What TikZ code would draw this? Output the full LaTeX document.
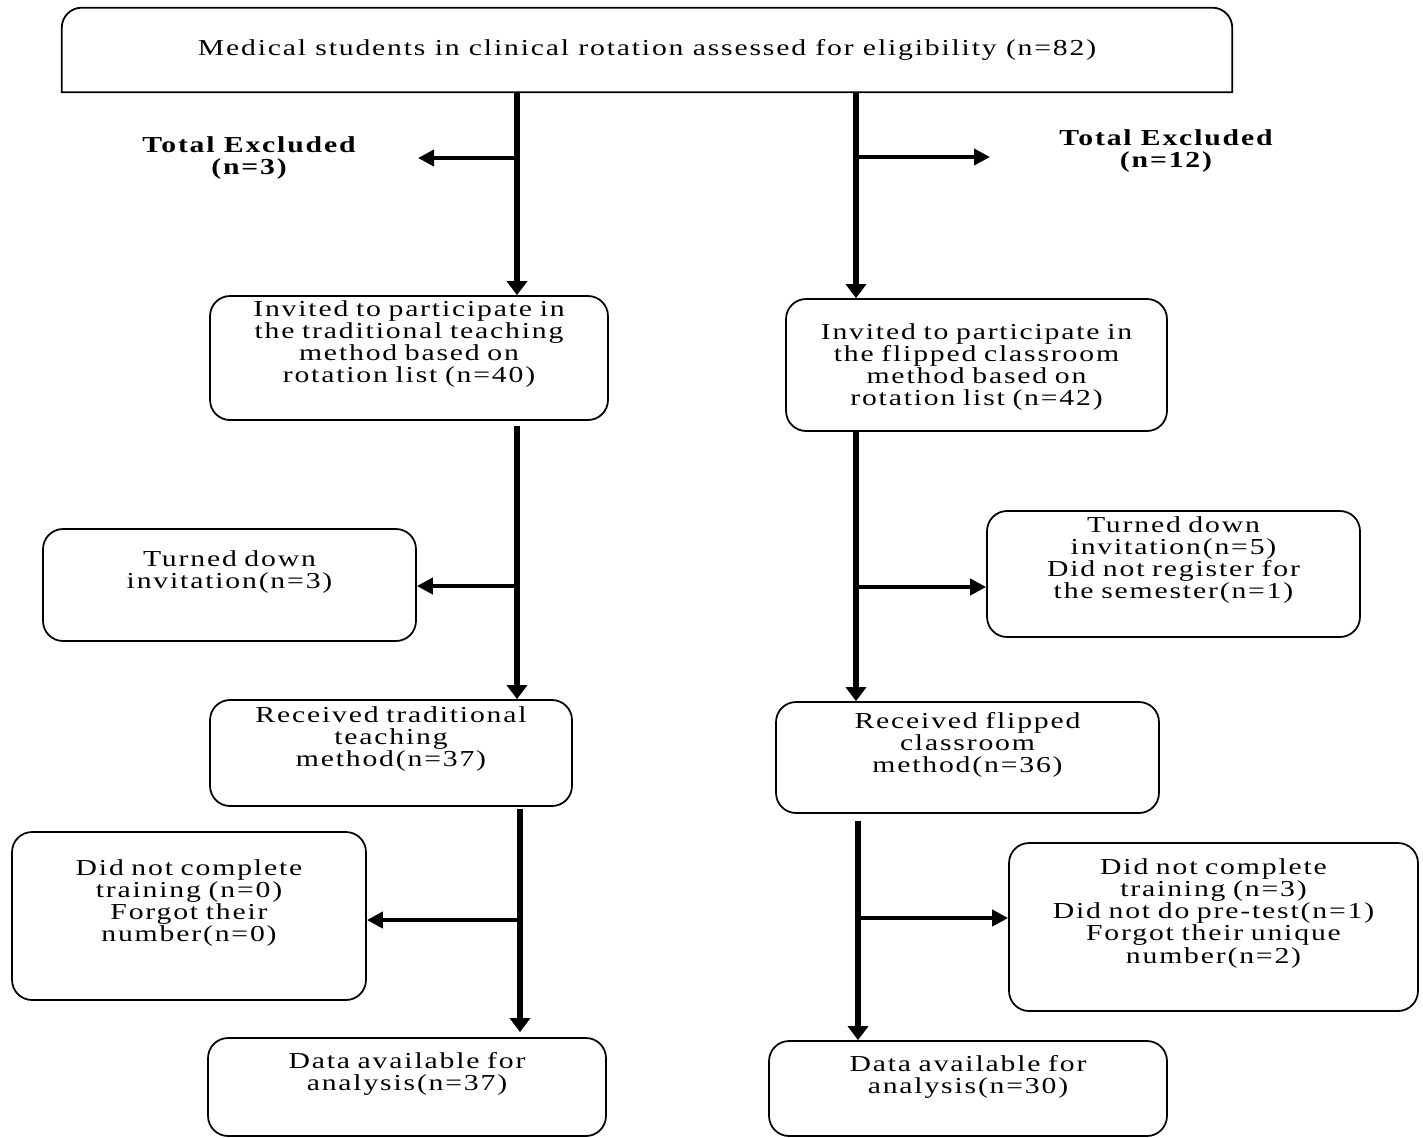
\documentclass[tikz,border=0pt]{standalone}
\usepackage{fontspec}
\setmainfont{Liberation Serif}[LetterSpace=8, FakeStretch=1.3]
\usetikzlibrary{arrows.meta}

\tikzset{
  flowbox/.style={draw, line width=1pt, rounded corners=0.4cm, align=center,
    inner xsep=0pt, inner ysep=0.1cm, font=\fontsize{13}{12.7}\selectfont},
  trunk/.style={line width=3pt, -{Triangle[length=0.28cm, width=0.4cm]}},
  branch/.style={line width=2.2pt, -{Triangle[length=0.32cm, width=0.32cm]}},
  excl/.style={align=center, font=\fontsize{13}{12}\selectfont\bfseries}
}

\begin{document}
\begin{tikzpicture}[x=0.02cm, y=-0.02cm]
  \useasboundingbox (0,0) rectangle (1423,1137);

  % screening
  \node [minimum width=23.4cm, minimum height=1.68cm, inner sep=0pt,
         font=\fontsize{13}{12.7}\selectfont] (screen) at (647,50)
        {Medical students in clinical rotation assessed for eligibility (n=82)};
  \draw [line width=1pt] (screen.south west) [rounded corners=0.4cm] -- (screen.north west)
        -- (screen.north east) [sharp corners] -- (screen.south east) -- cycle;

  % traditional arm
  \node [flowbox, text width=7.96cm, text height=0.30cm, text depth=1.98cm] (invtrad) at (409,358)
        {Invited to participate in\\the traditional teaching\\method based on\\rotation list (n=40)};
  \node [flowbox, text width=7.46cm, text height=0.64cm, text depth=1.40cm] (downtrad) at (229.5,585)
        {Turned down\\invitation(n=3)};
  \node [flowbox, text width=7.24cm, text height=0.34cm, text depth=1.58cm] (rectrad) at (391,753)
        {Received traditional\\teaching\\method(n=37)};
  \node [flowbox, text width=7.08cm, text height=0.76cm, text depth=2.40cm] (losttrad) at (189,916)
        {Did not complete\\training (n=0)\\Forgot their\\number(n=0)};
  \node [flowbox, text width=7.96cm, text height=0.50cm, text depth=1.26cm] (datatrad) at (407,1087)
        {Data available for\\analysis(n=37)};

  % flipped arm
  \node [flowbox, text width=7.62cm, text height=0.70cm, text depth=1.74cm] (invflip) at (976.5,365)
        {Invited to participate in\\the flipped classroom\\method based on\\rotation list (n=42)};
  \node [flowbox, text width=7.46cm, text height=0.32cm, text depth=2.00cm] (downflip) at (1173.5,574)
        {Turned down\\invitation(n=5)\\Did not register for\\the semester(n=1)};
  \node [flowbox, text width=7.66cm, text height=0.42cm, text depth=1.60cm] (recflip) at (967.5,757.5)
        {Received flipped\\classroom\\method(n=36)};
  \node [flowbox, text width=8.18cm, text height=0.52cm, text depth=2.64cm] (lostflip) at (1213.5,927)
        {Did not complete\\training (n=3)\\Did not do pre-test(n=1)\\Forgot their unique\\number(n=2)};
  \node [flowbox, text width=7.96cm, text height=0.50cm, text depth=1.20cm] (dataflip) at (968,1088.5)
        {Data available for\\analysis(n=30)};

  % exclusions
  \node [excl] (exclL) at (249,158) {Total Excluded\\(n=3)};
  \node [excl] (exclR) at (1166,151) {Total Excluded\\(n=12)};

  \coordinate (ltrunk) at (517,0);
  \coordinate (rtrunk) at (856,0);
  \coordinate (lsplit1) at (517,158);
  \coordinate (lend1) at (418,158);
  \coordinate (rsplit1) at (856,157);
  \coordinate (rend1) at (990,157);
  \coordinate (lsplit2) at (517,586);
  \coordinate (rsplit2) at (856,587);
  \coordinate (lsplit3) at (520,920);
  \coordinate (rsplit3) at (858,918);

  % trunks
  \draw [trunk] (screen.south -| ltrunk) -- (invtrad.north -| ltrunk);
  \draw [trunk] (screen.south -| rtrunk) -- (invflip.north -| rtrunk);
  \draw [trunk, shorten <=0.1cm] (invtrad.south -| ltrunk) -- (rectrad.north -| ltrunk);
  \draw [trunk] (invflip.south -| rtrunk) -- (recflip.north -| rtrunk);
  \draw [trunk, shorten <=0.04cm, shorten >=0.1cm] (rectrad.south -| lsplit3) -- (datatrad.north -| lsplit3);
  \draw [trunk, shorten <=0.14cm] (recflip.south -| rsplit3) -- (dataflip.north -| rsplit3);

  % branches
  \draw [branch] (lsplit1) -- (lend1);
  \draw [branch] (rsplit1) -- (rend1);
  \draw [branch] (lsplit2) -- (lsplit2 -| downtrad.east);
  \draw [branch] (rsplit2) -- (rsplit2 -| downflip.west);
  \draw [branch] (lsplit3) -- (lsplit3 -| losttrad.east);
  \draw [branch] (rsplit3) -- (rsplit3 -| lostflip.west);
\end{tikzpicture}
\end{document}
